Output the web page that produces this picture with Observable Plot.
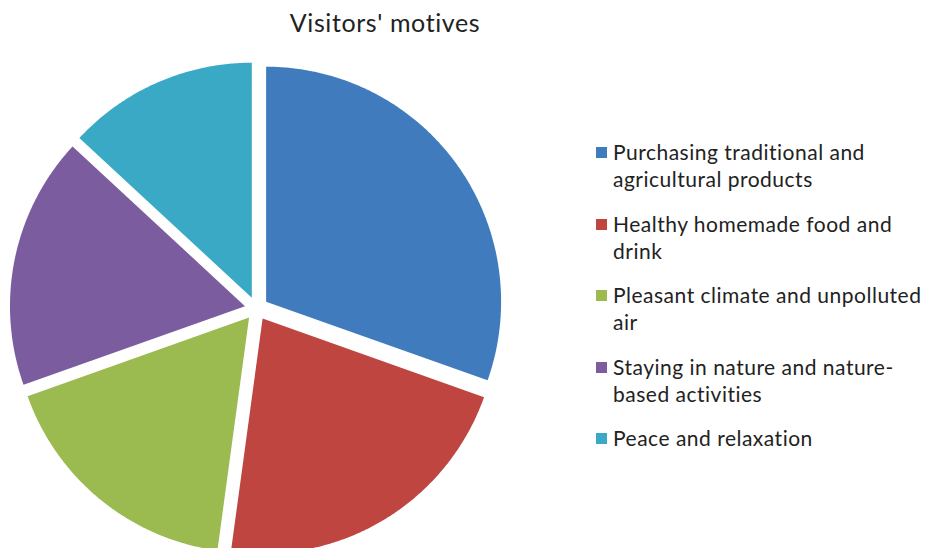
<!DOCTYPE html>
<html>
<head>
<meta charset="utf-8">
<script src="https://cdn.jsdelivr.net/npm/d3@7"></script>
<script src="https://cdn.jsdelivr.net/npm/@observablehq/plot@0.6"></script>
<style>
  html, body { margin: 0; padding: 0; background: #fff; }
  #wrap { position: relative; width: 925px; height: 548px; overflow: hidden; font-family: Lato, "Open Sans", sans-serif; color: #222; }
  #wrap svg { position: absolute; left: 0; top: 0; }
  #title { position: absolute; left: 185px; width: 400px; top: 7px; text-align: center; font-size: 25px; line-height: 30px; letter-spacing: 0.6px; }
  .item { position: absolute; left: 613px; font-size: 21px; line-height: 27px; white-space: pre; letter-spacing: 0.5px; }
  .sw { position: absolute; left: 596px; width: 11px; height: 11px; }
</style>
</head>
<body>
<div id="wrap"><div id="title">Visitors' motives</div></div>
<script>
const title = "Visitors' motives";
const categories = [
  "Purchasing traditional and agricultural products",
  "Healthy homemade food and drink",
  "Pleasant climate and unpolluted air",
  "Staying in nature and nature-based activities",
  "Peace and relaxation"
];
const legendLabels = [
  "Purchasing traditional and\nagricultural products",
  "Healthy homemade food and\ndrink",
  "Pleasant climate and unpolluted\nair",
  "Staying in nature and nature-\nbased activities",
  "Peace and relaxation"
];
const values = [30.4, 21.7, 17.4, 17.3, 13.1];
const colors = ["#3f7bbd", "#bf4541", "#9bba4f", "#7b5c9f", "#3aa9c5"];

const explode = 0.05;
const arcs = d3.pie().sort(null).value(d => d)(values);
const pts = [];
arcs.forEach((a, i) => {
  const mid = (a.startAngle + a.endAngle) / 2;
  const ox = explode * Math.sin(mid), oy = explode * Math.cos(mid);
  const cat = categories[i];
  pts.push({cat, x: ox, y: oy});
  const n = Math.max(2, Math.ceil((a.endAngle - a.startAngle) / (Math.PI / 360)));
  for (let k = 0; k <= n; k++) {
    const t = a.startAngle + (a.endAngle - a.startAngle) * k / n;
    pts.push({cat, x: ox + Math.sin(t), y: oy + Math.cos(t)});
  }
  pts.push({cat, x: ox, y: oy});
});

const chart = Plot.plot({
  width: 925,
  height: 548,
  marginLeft: 21,
  marginRight: 434,
  marginTop: 73,
  marginBottom: 5,
  x: {domain: [-1, 1], axis: null},
  y: {domain: [-1, 1], axis: null},
  color: {domain: categories, range: colors},
  marks: [
    Plot.line(pts, {x: "x", y: "y", z: "cat", fill: "cat", stroke: null, curve: "linear"})
  ]
});
const wrap = document.getElementById("wrap");
wrap.insertBefore(chart, wrap.firstChild);

legendLabels.forEach((lab, i) => {
  const top = 138.4 + i * 71.5;
  const sw = document.createElement("div");
  sw.className = "sw";
  sw.style.top = (top + 8.6) + "px";
  sw.style.background = colors[i];
  wrap.appendChild(sw);
  const t = document.createElement("div");
  t.className = "item";
  t.style.top = top + "px";
  t.textContent = lab;
  wrap.appendChild(t);
});
</script>
</body>
</html>
